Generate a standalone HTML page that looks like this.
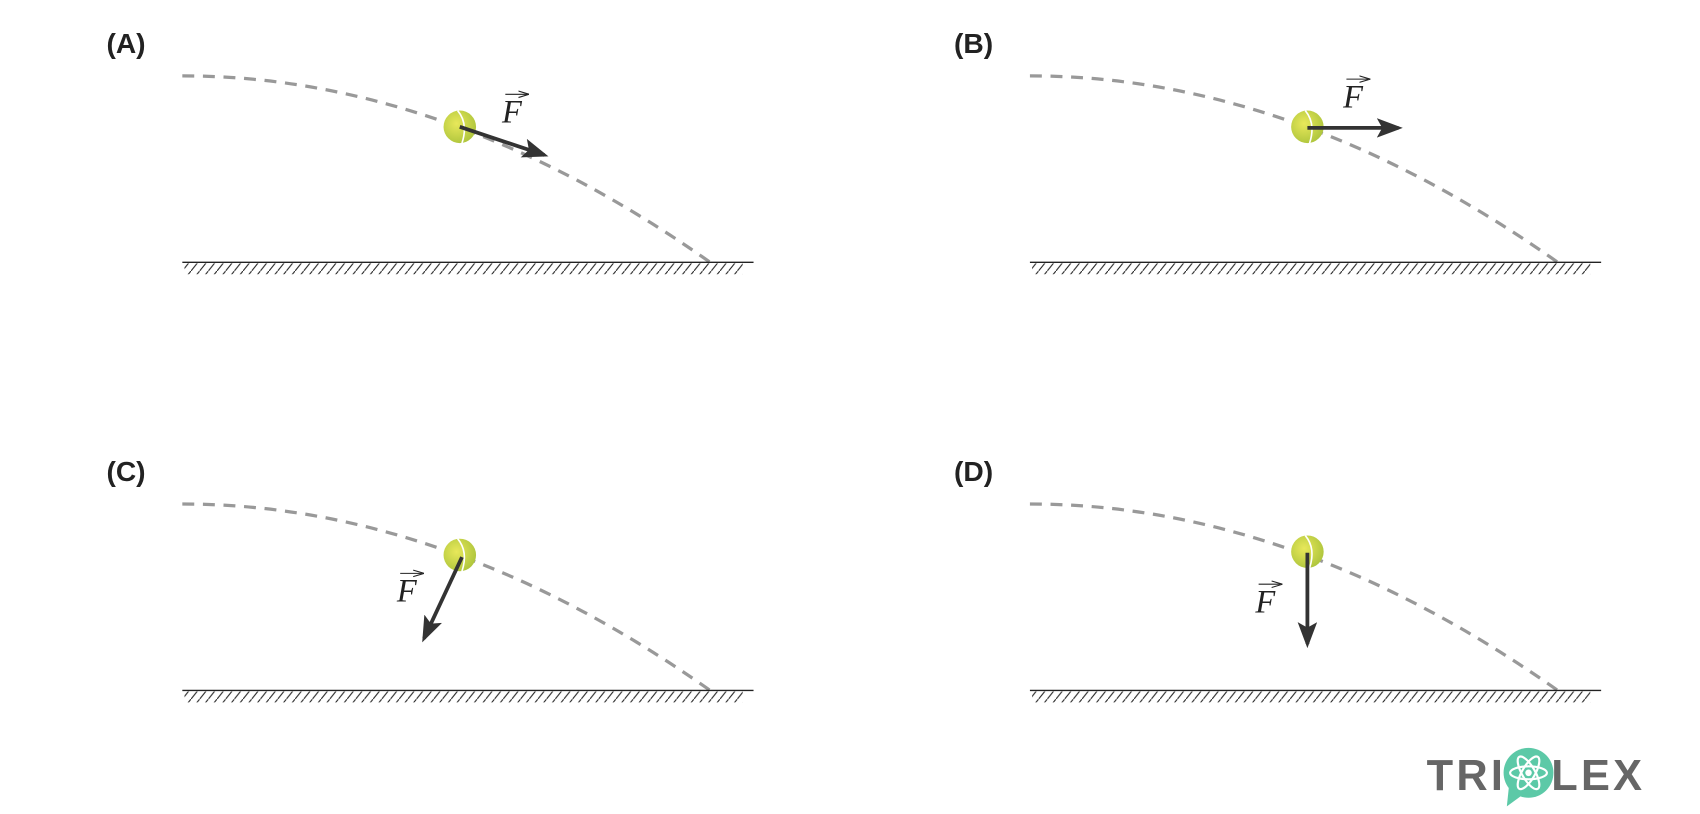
<!DOCTYPE html>
<html><head><meta charset="utf-8"><style>
html,body{margin:0;padding:0;background:#fff;}
svg{display:block}
</style></head><body>
<svg width="1700" height="814" viewBox="0 0 1568 751" xmlns="http://www.w3.org/2000/svg">
<defs>
<radialGradient id="bg" cx="0.4" cy="0.4" r="0.7">
<stop offset="0" stop-color="#e8e85a"/><stop offset="1" stop-color="#a9c23a"/>
</radialGradient>
<pattern id="hatch" width="8" height="10" patternUnits="userSpaceOnUse">
<line x1="0" y1="10" x2="8" y2="0" stroke="#222" stroke-width="1"/>
</pattern>
<marker id="ah" markerWidth="10" markerHeight="8" refX="8" refY="4" orient="auto" markerUnits="userSpaceOnUse" viewBox="0 0 10 8">
<path d="M0,1 L10,4 L0,7" fill="none" stroke="#222" stroke-width="1"/>
</marker>
<marker id="ah2" markerWidth="24" markerHeight="18" refX="20" refY="9" orient="auto" markerUnits="userSpaceOnUse" viewBox="0 0 24 18">
<path d="M0,0 L24,9 L0,18 L5,9 Z" fill="#333"/>
</marker>
<g id="panel">
<path d="M168,70 Q411,70 655,242" fill="none" stroke="#999" stroke-width="3" stroke-dasharray="11,8"/>
<line x1="168" y1="242" x2="695" y2="242" stroke="#222" stroke-width="1.2"/>
<rect x="170" y="243" width="515" height="10" fill="url(#hatch)"/>
</g>
<g id="ball">
<circle r="15" fill="url(#bg)"/>
<path d="M-2,-15 Q8,-3 2,15" fill="none" stroke="#fff" stroke-width="1.5"/>
</g>
</defs>
<g font-family="Liberation Sans, sans-serif" font-weight="bold" font-size="26" fill="#222">
<text x="98" y="49">(A)</text><text x="880" y="49">(B)</text>
<text x="98" y="444">(C)</text><text x="880" y="444">(D)</text>
</g>
<use href="#panel"/>
<use href="#panel" transform="translate(782,0)"/>
<use href="#panel" transform="translate(0,395)"/>
<use href="#panel" transform="translate(782,395)"/>
<use href="#ball" x="424" y="117"/>
<use href="#ball" x="1206" y="117"/>
<use href="#ball" x="424" y="512"/>
<use href="#ball" x="1206" y="509"/>
<g stroke="#333" stroke-width="3.5" marker-end="url(#ah2)">
<line x1="424" y1="117" x2="502" y2="143"/>
<line x1="1206" y1="118" x2="1290" y2="118"/>
<line x1="426" y1="514" x2="391" y2="589"/>
<line x1="1206" y1="510" x2="1206" y2="594"/>
</g>
<g font-family="Liberation Serif, serif" font-style="italic" font-size="30" fill="#222">
<text x="463" y="113">F</text><text x="1239" y="99">F</text>
<text x="366" y="555">F</text><text x="1158" y="565">F</text>
</g>
<g stroke="#222" stroke-width="1" marker-end="url(#ah)">
<line x1="466" y1="87" x2="486" y2="87"/>
<line x1="1242" y1="73" x2="1262" y2="73"/>
<line x1="369" y1="529" x2="389" y2="529"/>
<line x1="1161" y1="539" x2="1181" y2="539"/>
</g>
<g font-family="Liberation Sans, sans-serif" font-weight="bold" font-size="40" fill="#666" letter-spacing="3">
<text x="1316" y="729">TRI</text>
<text x="1431" y="729">LEX</text>
</g>
<circle cx="1410" cy="713" r="23" fill="#5cc9a7"/>
<path d="M1392,725 L1390,744 L1405,733 Z" fill="#5cc9a7"/>
<g fill="none" stroke="#fff" stroke-width="2">
<ellipse cx="1410" cy="713" rx="17" ry="6"/>
<ellipse cx="1410" cy="713" rx="17" ry="6" transform="rotate(60 1410 713)"/>
<ellipse cx="1410" cy="713" rx="17" ry="6" transform="rotate(-60 1410 713)"/>
</g>
<circle cx="1410" cy="713" r="3" fill="#fff"/>
</svg>
</body></html>
